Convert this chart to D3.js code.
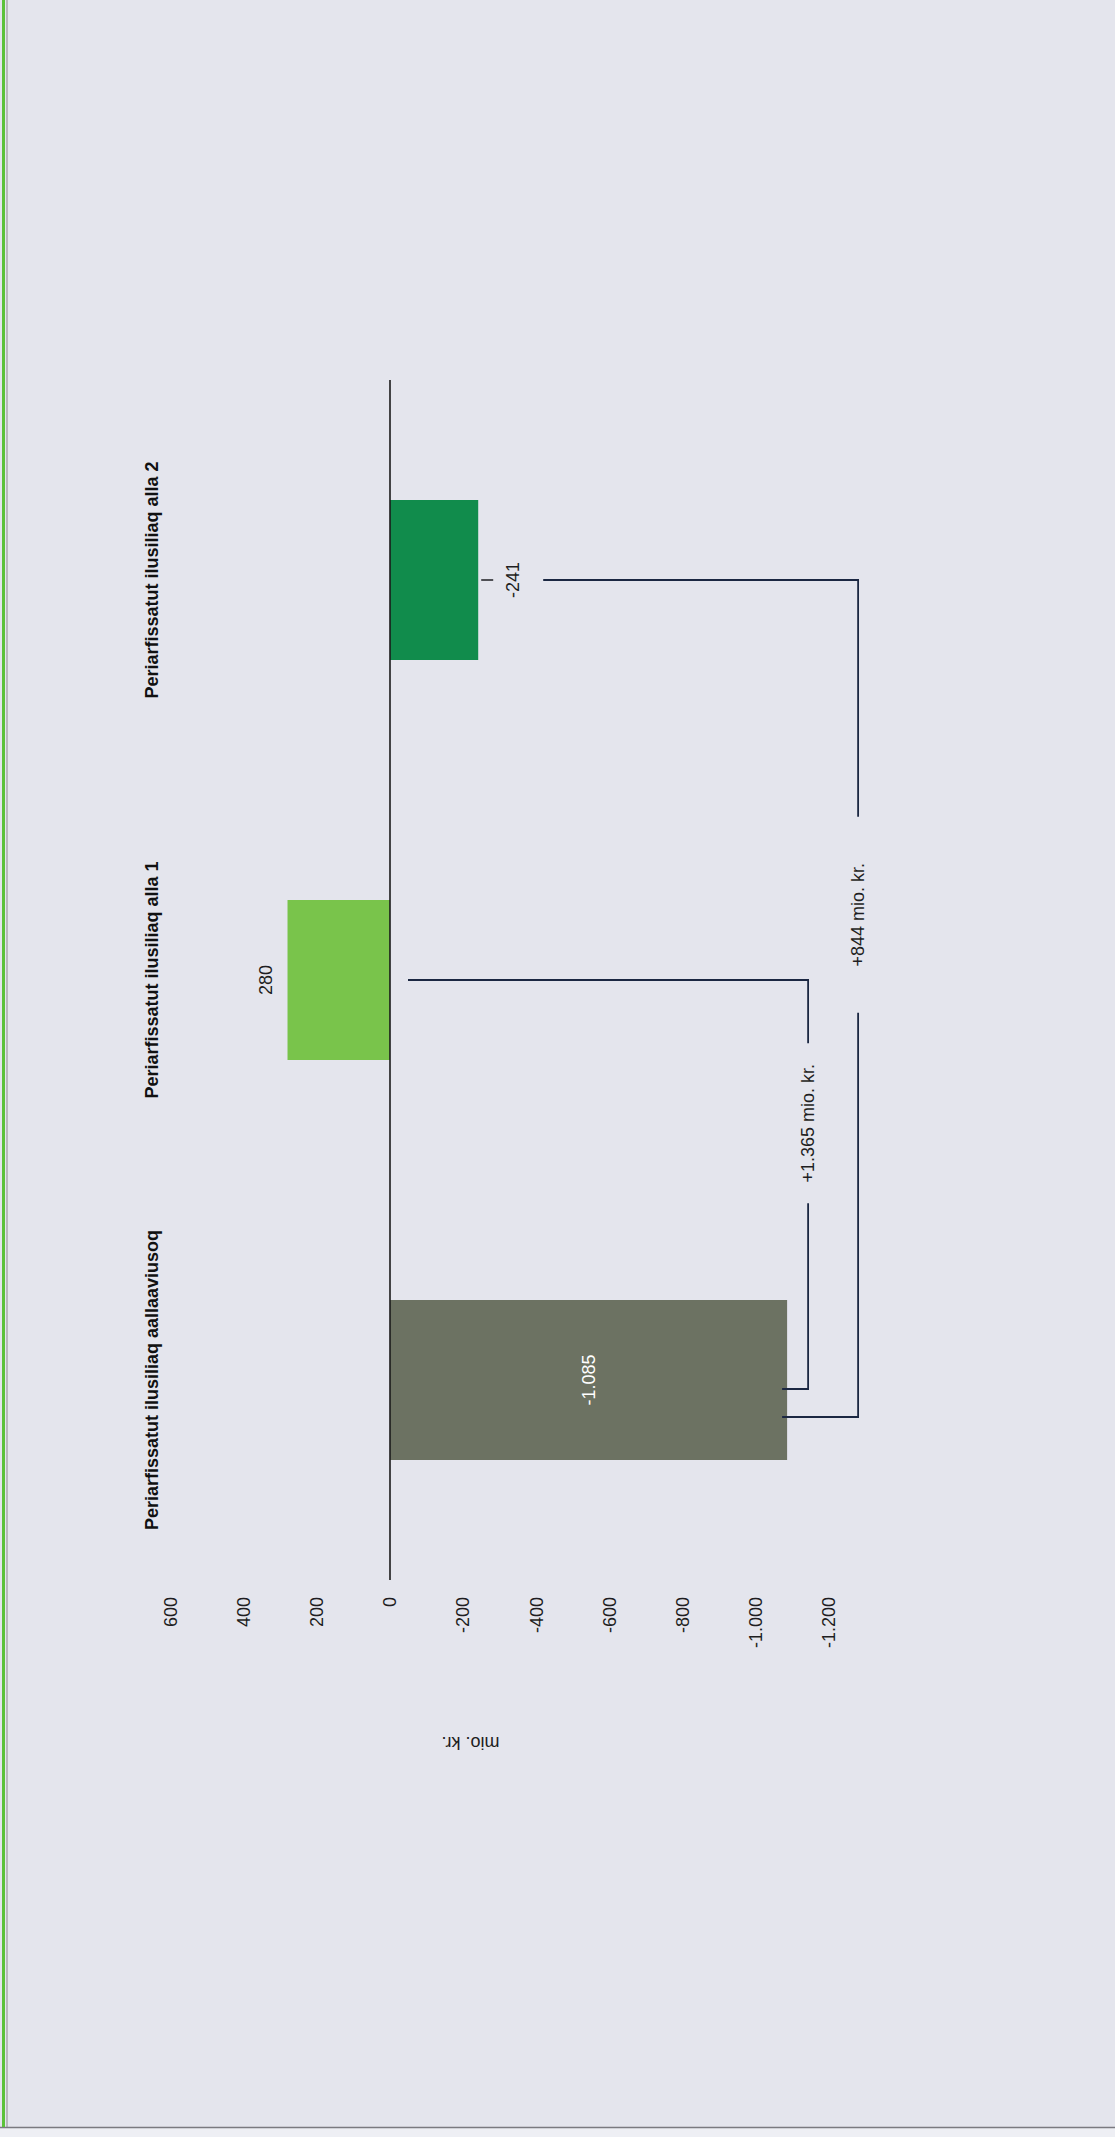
<!DOCTYPE html>
<html>
<head>
<meta charset="utf-8">
<script src="https://cdn.jsdelivr.net/npm/d3@7"></script>
<style>
  html, body { margin: 0; padding: 0; background: #e4e5ed; }
  svg { display: block; }
  text { font-family: "Liberation Sans", Arial, "Helvetica Neue", sans-serif; }
</style>
</head>
<body>
<svg id="chart" width="1115" height="2137"></svg>
<script>
// ---------- data ----------
const categories = [
  "Periarfissatut ilusiliaq aallaaviusoq",
  "Periarfissatut ilusiliaq alla 1",
  "Periarfissatut ilusiliaq alla 2"
];
const values = [-1085, 280, -241];
const valueLabels = ["-1.085", "280", "-241"];
const barColors = ["#6c7262", "#79c44b", "#118c4c"];
const tickValues = [600, 400, 200, 0, -200, -400, -600, -800, -1000, -1200];
const tickLabels = ["600", "400", "200", "0", "-200", "-400", "-600", "-800", "-1.000", "-1.200"];
const axisTitle = "mio. kr.";
const diffFrom = [0, 0];
const diffTo = [1, 2];
const diffLabels = ["+1.365 mio. kr.", "+844 mio. kr."];

// ---------- layout ----------
const W = 1115, H = 2137;
const svg = d3.select("#chart");

// page frame (scanned sheet edges)
svg.append("rect").attr("x", 0).attr("y", 0).attr("width", W).attr("height", H).attr("fill", "#e4e5ed");
svg.append("rect").attr("x", 0).attr("y", 2128).attr("width", W).attr("height", H - 2128).attr("fill", "#eeeff4");
svg.append("line").attr("x1", 0).attr("x2", W).attr("y1", 2127.5).attr("y2", 2127.5)
  .attr("stroke", "#7a7a80").attr("stroke-width", 1.5);
svg.append("line").attr("x1", 3.5).attr("x2", 3.5).attr("y1", 0).attr("y2", 2127)
  .attr("stroke", "#5cc23a").attr("stroke-width", 3);
svg.append("line").attr("x1", 7).attr("x2", 7).attr("y1", 0).attr("y2", 2127)
  .attr("stroke", "#8a8d8a").attr("stroke-width", 1);

// chart drawn in its own (unrotated) frame, then turned -90deg
const plotLen = 1200;          // category axis length
const baseY = 1580;            // screen y of the category axis start
const g = svg.append("g").attr("transform", `translate(0, ${baseY}) rotate(-90)`);

const x = d3.scaleBand().domain(categories).range([0, plotLen]).paddingInner(0.6).paddingOuter(0.3);
const y = d3.scaleLinear().domain([600, -1200]).range([170.4, 829.2]);

// y axis tick labels (no line, no ticks)
const yAxis = d3.axisLeft(y).tickValues(tickValues)
  .tickFormat((d, i) => tickLabels[i]).tickSize(0).tickPadding(17);
const ya = g.append("g").call(yAxis);
ya.select(".domain").remove();
ya.selectAll("text").attr("font-size", 18).attr("fill", "#1e1e22")
  .attr("font-family", "'Liberation Sans', Arial, sans-serif");

// axis title (upside down on screen)
g.append("text")
  .attr("transform", `translate(-163, ${y(-220)}) rotate(-90)`)
  .attr("text-anchor", "middle").attr("dominant-baseline", "central")
  .attr("font-size", 18).attr("fill", "#1e1e22").text(axisTitle);

// category labels (top of the chart frame)
g.selectAll("text.cat").data(categories).join("text").attr("class", "cat")
  .attr("x", d => x(d) + x.bandwidth() / 2).attr("y", 152)
  .attr("text-anchor", "middle").attr("dominant-baseline", "central")
  .attr("font-size", 18).attr("font-weight", "bold").attr("fill", "#111")
  .text(d => d);

// bars
g.selectAll("rect.bar").data(values).join("rect").attr("class", "bar")
  .attr("x", (d, i) => x(categories[i]))
  .attr("width", x.bandwidth())
  .attr("y", d => Math.min(y(0), y(d)))
  .attr("height", d => Math.abs(y(d) - y(0)))
  .attr("fill", (d, i) => barColors[i]);

// zero line
g.append("line").attr("x1", 0).attr("x2", plotLen).attr("y1", y(0)).attr("y2", y(0))
  .attr("stroke", "#1a1a1a").attr("stroke-width", 1.6);

// value labels
const cx = i => x(categories[i]) + x.bandwidth() / 2;
// -1.085 inside the bar
g.append("text").attr("x", cx(0)).attr("y", (y(0) + y(values[0])) / 2)
  .attr("text-anchor", "middle").attr("dominant-baseline", "central")
  .attr("font-size", 18).attr("fill", "#ffffff").text(valueLabels[0]);
// 280 beyond the positive bar end
g.append("text").attr("x", cx(1)).attr("y", y(values[1]) - 22)
  .attr("text-anchor", "middle").attr("dominant-baseline", "central")
  .attr("font-size", 18).attr("fill", "#1e1e22").text(valueLabels[1]);
// -241 beyond the negative bar end, with a short leader
g.append("line").attr("x1", cx(2)).attr("x2", cx(2))
  .attr("y1", y(values[2]) + 3).attr("y2", y(values[2]) + 15)
  .attr("stroke", "#1e1e22").attr("stroke-width", 1.5);
g.append("text").attr("x", cx(2)).attr("y", y(values[2]) + 35)
  .attr("text-anchor", "middle").attr("dominant-baseline", "central")
  .attr("font-size", 18).attr("fill", "#1e1e22").text(valueLabels[2]);

// difference brackets
const bracketStyle = [
  { start: -9, end: 0, out: 21, reach: y(0) + 18, frac: 0.65, gap: 80 },
  { start: -37, end: 0, out: 71, reach: y(values[2]) + 65, frac: 0.60, gap: 98 }
];
const lineColor = "#1b2742";
diffFrom.forEach((fi, k) => {
  const ti = diffTo[k];
  const s = bracketStyle[k];
  const xa = cx(fi) + s.start;          // along category axis at the source bar
  const xb = cx(ti) + s.end;            // at the target bar
  const vx = y(values[fi]) + s.out;     // bracket vertical position
  const xa0 = y(values[fi]) - 5;        // starts at the bar end
  const lab = xa + (xb - xa) * s.frac;  // label position
  const path = d3.path();
  path.moveTo(xa, xa0); path.lineTo(xa, vx); path.lineTo(lab - s.gap, vx);
  path.moveTo(lab + s.gap, vx); path.lineTo(xb, vx); path.lineTo(xb, s.reach);
  g.append("path").attr("d", path.toString()).attr("fill", "none")
    .attr("stroke", lineColor).attr("stroke-width", 1.8);
  g.append("text").attr("x", lab).attr("y", vx)
    .attr("text-anchor", "middle").attr("dominant-baseline", "central")
    .attr("font-size", 18).attr("fill", "#1e1e22").text(diffLabels[k]);
});
</script>
</body>
</html>
